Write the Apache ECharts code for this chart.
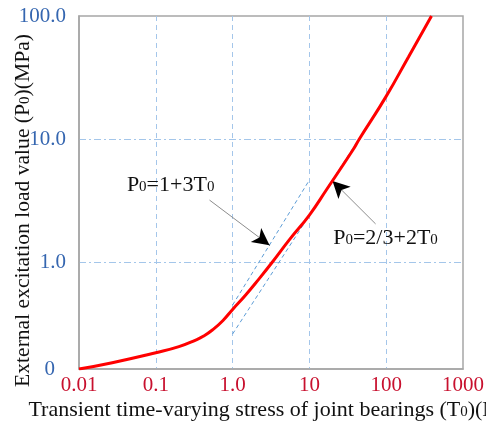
<!DOCTYPE html>
<html>
<head>
<meta charset="utf-8">
<script src="https://cdn.jsdelivr.net/npm/echarts@6/dist/echarts.min.js"></script>
<style>
  html, body { margin: 0; padding: 0; background: #fff; }
  #chart { width: 486px; height: 422px; }
</style>
</head>
<body>
<div id="chart"></div>
<script>
// red curve (T0, P0)
const curveT = [0.01, 0.0271, 0.1, 0.2, 0.331, 0.42, 0.545, 0.75, 1, 1.48, 2.21, 3.3, 5.5, 10, 16.6, 36.8, 44.7, 98.5, 195, 389];
const curveP = [0.135, 0.152, 0.183, 0.205, 0.232, 0.25, 0.28, 0.335, 0.412, 0.54, 0.73, 1.0, 1.52, 2.41, 3.85, 8.14, 10, 21.9, 46.5, 100];

// dashed reference lines
const upperT = [1, 10];
const upperP = [0.447, 4.64];
const lowerT = [1, 95];
const lowerP = [0.26, 21];

// annotations: text position, arrow start, arrow tip
const note1 = { at: [0.156, 4.23], from: [0.5, 3.19], to: [3.03, 1.37] };
const note2 = { at: [98, 1.57], from: [72.8, 2.04], to: [20.0, 4.56] };

const xLabels = { '0.01': '0.01', '0.1': '0.1', '1': '1.0', '10': '10', '100': '100', '1000': '1000' };
const yMin = 0.135;

const FONT = '"Liberation Serif", "DejaVu Serif", serif';
const GRID_BLUE = '#a4c6ea';

const zip = (a, b) => a.map((v, i) => [v, b[i]]);

// short black head at the tip of each gray arrow line
function arrowItems(n) {
  const lf = n.from.map(Math.log10), lt = n.to.map(Math.log10);
  const k = 0.12;
  const near = [Math.pow(10, lt[0] + k * (lf[0] - lt[0])), Math.pow(10, lt[1] + k * (lf[1] - lt[1]))];
  return [
    [{ coord: n.from, symbol: 'none' }, { coord: n.to, symbol: 'none', lineStyle: { color: '#8c8c8c', width: 1, type: 'solid' } }],
    [{ coord: near, symbol: 'none' }, { coord: n.to, symbol: 'arrow', symbolSize: [13, 17], lineStyle: { color: '#000', width: 1, type: 'solid' } }]
  ];
}

const richSub = {
  n: { fontFamily: FONT, fontSize: 22, color: '#111' },
  s: { fontFamily: FONT, fontSize: 15, color: '#111', verticalAlign: 'bottom', padding: [0, 0, 1, 0] }
};
const richTitleY = {
  n: { fontFamily: FONT, fontSize: 21.6, color: '#111' },
  s: { fontFamily: FONT, fontSize: 15, color: '#111', verticalAlign: 'bottom', padding: [0, 0, 1, 0] }
};

const chart = echarts.init(document.getElementById('chart'));
chart.setOption({
  animation: false,
  grid: {
    left: 79, right: 23, top: 16, bottom: 53,
    outerBoundsMode: 'none', containLabel: false,
    show: true, borderColor: '#a6a6a6', borderWidth: 1.5
  },
  xAxis: {
    type: 'log',
    min: 0.01,
    max: 1000,
    name: '{n|Transient time-varying stress of joint bearings (T}{s|0}{n|)(N)}',
    nameLocation: 'middle',
    nameGap: 30,
    nameMoveOverlap: false,
    nameTextStyle: { rich: richSub, padding: [0, 8, 0, 0] },
    axisLine: { lineStyle: { color: '#a6a6a6', width: 1.5 } },
    axisTick: { show: false },
    axisLabel: {
      fontFamily: FONT, fontSize: 21, color: '#c8102e', margin: 6,
      formatter: v => xLabels[String(+v.toPrecision(3))] || ''
    },
    splitLine: { show: true, showMinLine: false, showMaxLine: false, lineStyle: { color: GRID_BLUE, type: [5, 4], width: 1 } }
  },
  yAxis: {
    type: 'log',
    min: yMin,
    max: 100,
    name: '{n|External excitation load value (P}{s|0}{n|)(MPa)}',
    nameLocation: 'middle',
    nameGap: 45,
    nameMoveOverlap: false,
    nameTextStyle: { rich: richTitleY, padding: [0, 36, 0, 0] },
    axisLine: { show: true, lineStyle: { color: '#a6a6a6', width: 1.5 } },
    axisTick: { show: false },
    axisLabel: {
      fontFamily: FONT, fontSize: 21, color: '#3566b0', margin: 13,
      formatter: v => {
        if (Math.abs(v - yMin) < 1e-6) return '{z|0}';
        return (+v.toPrecision(3)).toFixed(1);
      },
      rich: { z: { fontFamily: FONT, fontSize: 21, color: '#3566b0', padding: [0, 11, 0, 0] } }
    },
    splitLine: { show: true, showMinLine: false, showMaxLine: false, lineStyle: { color: GRID_BLUE, type: [7, 3, 2, 3], width: 1 } }
  },
  series: [
    {
      type: 'line',
      data: zip(upperT, upperP),
      showSymbol: false,
      silent: true,
      lineStyle: { color: '#5b9bd5', width: 1, type: [4, 3] }
    },
    {
      type: 'line',
      data: zip(lowerT, lowerP),
      showSymbol: false,
      silent: true,
      lineStyle: { color: '#5b9bd5', width: 1, type: [4, 3] }
    },
    {
      type: 'line',
      data: zip(curveT, curveP),
      smooth: 0.5,
      showSymbol: false,
      lineStyle: { color: '#ff0000', width: 3 },
      z: 5,
      markLine: {
        silent: true,
        label: { show: false },
        data: [...arrowItems(note1), ...arrowItems(note2)]
      },
      markPoint: {
        silent: true,
        symbol: 'circle',
        symbolSize: 1,
        itemStyle: { color: 'rgba(0,0,0,0)' },
        label: { show: true, position: 'inside', rich: richSub },
        data: [
          { coord: note1.at, label: { formatter: '{n|P}{s|0}{n|=1+3T}{s|0}' } },
          { coord: note2.at, label: { formatter: '{n|P}{s|0}{n|=2/3+2T}{s|0}' } }
        ]
      }
    }
  ]
});
</script>
</body>
</html>
